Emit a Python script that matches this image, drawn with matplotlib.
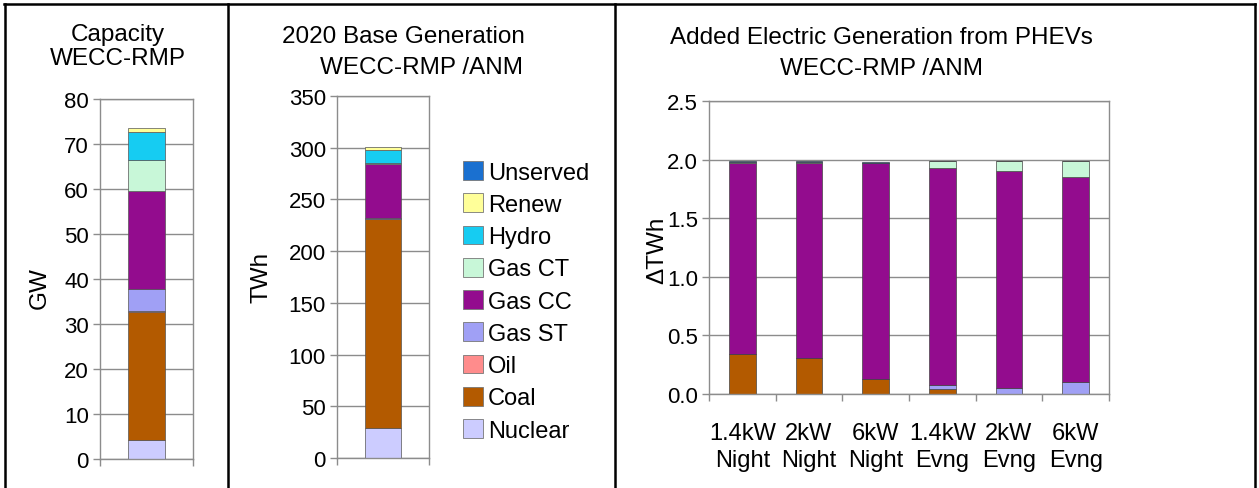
"""PHEV generation charts: capacity, base generation and added generation"""

import numpy as np
import matplotlib.pyplot as plt
from matplotlib.lines import Line2D
from matplotlib.patches import Patch

plt.rcParams['font.family'] = ['Liberation Sans', 'DejaVu Sans']

# Fuel types, bottom to top of each stack
fuels = ['Nuclear', 'Coal', 'Oil', 'Gas ST', 'Gas CC', 'Gas CT', 'Hydro', 'Renew', 'Unserved']
fuel_colors = ['#CCCCFF', '#B35A00', '#FF8C8C', '#A0A0F5', '#930C8E', '#C8F7D8',
               '#16CCF2', '#FFFF99', '#1A70D0']

# Capacity, GW
capacity_gw = [4.2, 28.5, 0.3, 4.8, 21.8, 6.8, 6.2, 1.0, 0.0]

# 2020 base generation, TWh
base_twh = [29, 202, 0.2, 0.8, 52, 1.5, 12.5, 3.0, 0.0]

# Added generation from PHEVs, delta TWh
scenarios = ['1.4kW\nNight', '2kW\nNight', '6kW\nNight', '1.4kW\nEvng', '2kW\nEvng', '6kW\nEvng']
added = {
	'Nuclear':  [0, 0, 0, 0, 0, 0],
	'Coal':     [0.345, 0.31, 0.13, 0.04, 0.0, 0.0],
	'Oil':      [0, 0, 0, 0, 0, 0],
	'Gas ST':   [0.0, 0.0, 0.0, 0.04, 0.053, 0.104],
	'Gas CC':   [1.625, 1.66, 1.84, 1.846, 1.853, 1.746],
	'Gas CT':   [0.008, 0.008, 0.0, 0.06, 0.085, 0.14],
	'Hydro':    [0, 0, 0, 0, 0, 0],
	'Renew':    [0, 0, 0, 0, 0, 0],
	'Unserved': [0.01, 0.01, 0.012, 0.006, 0.0, 0.0],
}

W, H = 1259, 489
grid_color = '#8C8C8C'
title_size = 17.5
tick_size = 16


def px_axes(fig, left, top, right, bottom):
	"""Add axes using pixel coordinates (origin top-left)."""
	return fig.add_axes([left / W, 1 - bottom / H, (right - left) / W, (bottom - top) / H])


def style_axes(ax, size):
	for s in ax.spines.values():
		s.set_color(grid_color)
		s.set_linewidth(1.0)
	ax.yaxis.grid(True, color=grid_color, linewidth=1.0)
	ax.set_axisbelow(True)
	ax.tick_params(axis='y', colors=grid_color, labelcolor='black', labelsize=size,
				   length=5, width=1.0, pad=3)
	ax.tick_params(axis='x', colors=grid_color, labelcolor='black', length=5, width=1.0)


def single_stack(ax, values):
	bottom = 0
	for v, c in zip(values, fuel_colors):
		if v > 0:
			ax.bar(0, v, bottom=bottom, width=0.4, color=c, edgecolor='#555555', linewidth=0.5)
		bottom += v
	ax.set_xlim(-0.5, 0.5)
	ax.set_xticks([-0.5, 0.5])
	ax.set_xticklabels([])


fig = plt.figure(figsize=(W / 100, H / 100), dpi=100)

# Panel 1: capacity
ax1 = px_axes(fig, 100, 100, 193, 460)
single_stack(ax1, capacity_gw)
ax1.set_ylim(0, 80)
ax1.set_yticks(np.arange(0, 81, 10))
style_axes(ax1, tick_size)
fig.text(117.5 / W, 1 - 35 / H, 'Capacity', ha='center', va='center', fontsize=title_size)
fig.text(117.5 / W, 1 - 59 / H, 'WECC-RMP', ha='center', va='center', fontsize=title_size)
fig.text(40 / W, 1 - 288 / H, 'GW', ha='center', va='center', rotation=90, fontsize=title_size)

# Panel 2: base generation
ax2 = px_axes(fig, 337, 97, 429, 459)
single_stack(ax2, base_twh)
ax2.set_ylim(0, 350)
ax2.set_yticks(np.arange(0, 351, 50))
style_axes(ax2, tick_size)
fig.text(403.5 / W, 1 - 37 / H, '2020 Base Generation', ha='center', va='center', fontsize=title_size)
fig.text(422 / W, 1 - 68 / H, 'WECC-RMP /ANM', ha='center', va='center', fontsize=title_size)
fig.text(262 / W, 1 - 277 / H, 'TWh', ha='center', va='center', rotation=90, fontsize=title_size)

handles = [Patch(facecolor=c, edgecolor='#777777', linewidth=0.6, label=f)
		   for f, c in zip(fuels, fuel_colors)][::-1]
fig.legend(handles=handles, loc='upper left', bbox_to_anchor=(463 / W, 1 - 162 / H),
		   frameon=False, fontsize=17, handlelength=0.85, handleheight=0.85,
		   handletextpad=0.2, labelspacing=0.41, borderpad=0, borderaxespad=0)

# Panel 3: added generation from PHEVs
ax3 = px_axes(fig, 709, 102, 1109, 395)
x = np.arange(len(scenarios))
bottom = np.zeros(len(scenarios))
for f, c in zip(fuels, fuel_colors):
	vals = np.array(added[f])
	if vals.sum() > 0:
		ax3.bar(x, vals, bottom=bottom, width=0.4, color=c, edgecolor='#444444', linewidth=0.5)
	bottom += vals
ax3.set_xlim(-0.5, len(scenarios) - 0.5)
ax3.set_ylim(0, 2.5)
ax3.set_yticks(np.arange(0, 2.51, 0.5))
ax3.yaxis.set_major_formatter(plt.FormatStrFormatter('%.1f'))
ax3.set_xticks(np.arange(-0.5, len(scenarios), 1.0))
ax3.set_xticklabels([])
ax3.set_xticks(x, minor=True)
ax3.set_xticklabels(scenarios, minor=True, fontsize=17, linespacing=1.3)
ax3.tick_params(axis='x', which='minor', length=0, pad=20)
style_axes(ax3, tick_size)
fig.text(881 / W, 1 - 38 / H, 'Added Electric Generation from PHEVs', ha='center', va='center', fontsize=title_size)
fig.text(881 / W, 1 - 69 / H, 'WECC-RMP /ANM', ha='center', va='center', fontsize=title_size)
fig.text(657 / W, 1 - 250 / H, '\u0394TWh', ha='center', va='center', rotation=90, fontsize=title_size)

# Table borders around panels
lc = 'black'
fig.add_artist(Line2D([4 / W, 1255 / W], [1 - 5 / H, 1 - 5 / H], color=lc, lw=1.8))
for xp in [5, 228, 615, 1255]:
	fig.add_artist(Line2D([xp / W, xp / W], [0, 1 - 5 / H], color=lc, lw=1.8))

fig.savefig('out.png', dpi=100)
plt.close(fig)
